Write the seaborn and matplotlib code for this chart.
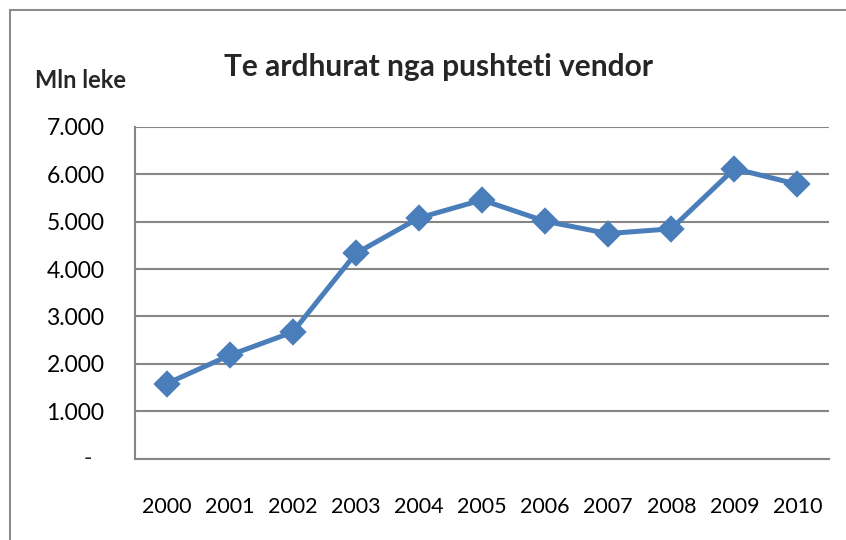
import matplotlib
matplotlib.use("Agg")
import matplotlib.pyplot as plt
import matplotlib.transforms as mtransforms
import seaborn as sns
import pandas as pd

years = ["2000", "2001", "2002", "2003", "2004", "2005",
         "2006", "2007", "2008", "2009", "2010"]
revenue = [1580, 2180, 2670, 4330, 5080, 5460, 5010, 4750, 4850, 6120, 5790]
y_ticks = [0, 1000, 2000, 3000, 4000, 5000, 6000, 7000]
y_labels = ["", "1.000", "2.000", "3.000", "4.000", "5.000", "6.000", "7.000"]

sns.set_style("white")
plt.rcParams["font.family"] = ["Lato", "DejaVu Sans"]

df = pd.DataFrame({"year": years, "revenue": revenue})

fig = plt.figure(figsize=(8.46, 5.40), dpi=100)
ax = fig.add_axes([135 / 846, 1 - 458.5 / 540, 694 / 846, 331.5 / 540])

# chart frame (cropped at right and bottom in the original)
fig.add_artist(plt.Rectangle((10 / 846, -0.05), 1.2, 1 - 10 / 540 + 0.05,
                             transform=fig.transFigure, fill=False,
                             edgecolor="#8c8c8c", linewidth=1.5))

sns.pointplot(data=df, x="year", y="revenue", color="#4a7ebb",
              markers="D", markersize=11.5, linewidth=3.6, ax=ax)

ax.set_xlim(-0.5, len(years) - 0.5)
ax.set_ylim(0, 7000)
ax.set_yticks(y_ticks)
ax.set_yticklabels(y_labels)
ax.yaxis.grid(True, color="#868686", linewidth=1.5)
ax.set_axisbelow(True)
for s in ["top", "right"]:
    ax.spines[s].set_visible(False)
for s in ["left", "bottom"]:
    ax.spines[s].set_color("#868686")
    ax.spines[s].set_linewidth(1.5)
ax.tick_params(axis="both", length=0, colors="black")
ax.tick_params(axis="y", pad=22, labelsize=16.5)
ax.tick_params(axis="x", pad=28, labelsize=15.5)
ax.set_xlabel("")
ax.set_ylabel("")

# accounting-style dash for zero
trans = mtransforms.blended_transform_factory(fig.transFigure, ax.transData)
ax.text(88 / 846, 0, "-", transform=trans, ha="center", va="center", fontsize=16.5)

fig.text(438 / 846, 1 - 67 / 540, "Te ardhurat nga pushteti vendor",
         ha="center", va="center", fontsize=21.5, fontweight="bold")
fig.text(35 / 846, 1 - 80 / 540, "Mln leke", ha="left", va="center",
         fontsize=17, fontweight="bold")

fig.savefig("out.png", dpi=100)
